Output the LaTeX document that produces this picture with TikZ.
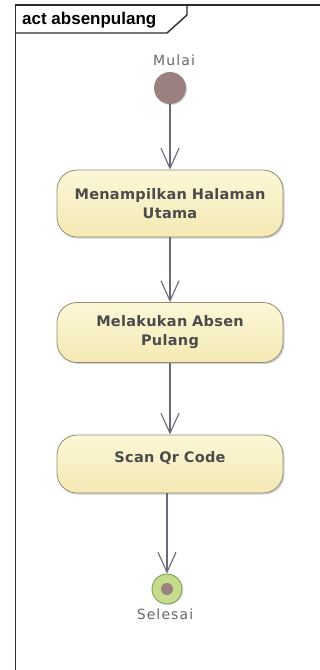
\documentclass[tikz,border=0pt]{standalone}
\usepackage{fontspec}
\setmainfont{DejaVu Sans}
\newfontfamily\titlefont{Liberation Sans}
\newfontfamily\actfont[LetterSpace=2]{DejaVu Sans}
\newfontfamily\lblfont[LetterSpace=8]{DejaVu Sans}
\usetikzlibrary{arrows.meta,shadows}

\definecolor{framepen}{RGB}{45,45,45}
\definecolor{edgegray}{RGB}{105,105,120}
\definecolor{acttop}{RGB}{252,247,215}
\definecolor{actbottom}{RGB}{244,233,180}
\definecolor{actborder}{RGB}{150,140,110}
\definecolor{txtgray}{RGB}{75,75,75}
\definecolor{lblgray}{RGB}{105,105,105}
\definecolor{startfill}{RGB}{155,128,128}
\definecolor{endfill}{RGB}{196,220,140}
\definecolor{endborder}{RGB}{125,150,80}

\tikzset{
  frameline/.style={draw=framepen, line width=1.4pt},
  action/.style={draw=actborder, line width=0.8pt, rounded corners=20pt,
    top color=acttop, bottom color=actbottom,
    minimum width=226pt, text width=215pt, align=center,
    font=\actfont\bfseries\fontsize{14.5}{19}\selectfont, text=txtgray,
    drop shadow={shadow xshift=1.5pt, shadow yshift=-1.5pt, fill=black, opacity=0.18}},
  raised/.style={text depth=15pt},
  flow/.style={draw=edgegray, line width=1.1pt,
    -{Straight Barb[length=20pt, width=18pt, line width=1.1pt]}},
  caption/.style={font=\lblfont\fontsize{14}{16}\selectfont, text=lblgray}
}

\begin{document}
\begin{tikzpicture}[x=1pt, y=-1pt]
  \useasboundingbox (0,0) rectangle (320,670);
  \fill[white] (0,0) rectangle (320,670);

  % activity frame with its name tab
  \draw[frameline] (15.5,671) -- (15.5,5) -- (321,5);
  \draw[frameline] (15.5,33) -- (167,33) -- (187,15) -- (187,5);
  \node[anchor=west, inner sep=0, font=\titlefont\bfseries\fontsize{17}{20}\selectfont]
    (title) at (22,20) {act absenpulang};

  % initial node
  \node[circle, fill=startfill, minimum size=32pt, inner sep=0,
    drop shadow={shadow xshift=1pt, shadow yshift=-1pt, fill=black, opacity=0.15}]
    (start) at (170,88) {};
  \node[caption] (mulai) at (174,60) {Mulai};

  % actions
  \node[action, minimum height=67pt] (home) at (170,203.5)
    {Menampilkan Halaman\\Utama};
  \node[action, minimum height=60pt] (absen) at (170,332.5)
    {Melakukan Absen\\Pulang};
  \node[action, minimum height=58pt, raised] (scan) at (170,464)
    {Scan Qr Code};

  % final node
  \node[circle, draw=endborder, line width=0.8pt, fill=endfill,
    minimum size=30pt, inner sep=0,
    drop shadow={shadow xshift=1pt, shadow yshift=-1pt, fill=black, opacity=0.15}]
    (final) at (167,589) {};
  \node[circle, fill=startfill, minimum size=12pt, inner sep=0] (finaldot) at (final.center) {};
  \node[caption] (selesai) at (165,614) {Selesai};

  % control flows
  \draw[flow] (start) -- (home);
  \draw[flow] (home) -- (absen);
  \draw[flow] (absen) -- (scan);
  \draw[flow] (scan.south -| final.north) -- (final);
\end{tikzpicture}
\end{document}
